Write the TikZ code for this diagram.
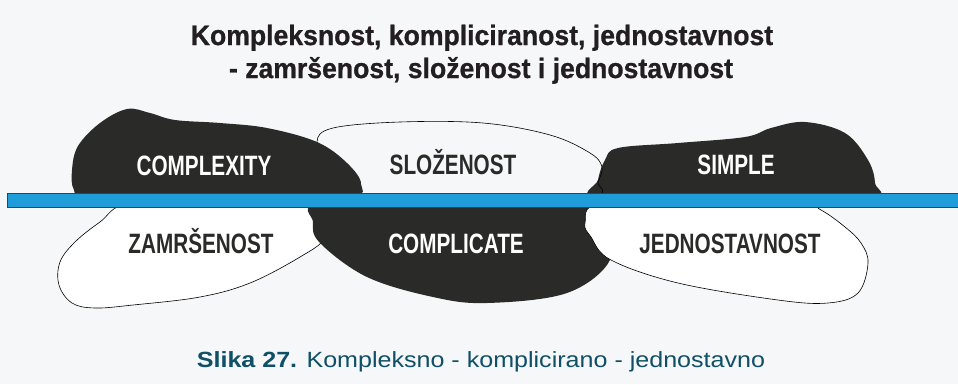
\documentclass[tikz,border=0pt]{standalone}
\usepackage{fontspec}
\usepackage{xcolor}
\usepackage{tikz}
\setmainfont{Liberation Sans}
\newfontfamily\blobfont[FakeStretch=0.74]{Liberation Sans}
\newfontfamily\headfont[FakeStretch=0.95, FakeBold=0.8]{Liberation Sans}
\newfontfamily\capfont[FakeStretch=1.14]{Liberation Sans}
\definecolor{pagebg}{HTML}{F5F7F9}
\definecolor{blobdark}{HTML}{2A2A29}
\definecolor{barblue}{HTML}{1E9DD8}
\definecolor{captionteal}{HTML}{0F5066}
\definecolor{headink}{HTML}{231F20}

\begin{document}
\begin{tikzpicture}[x=1pt, y=-1pt,
        darkblob/.style={fill=blobdark},
        lightblob/.style={fill=white, draw=black, line width=0.6pt},
        darklabel/.style={anchor=base, text=white, font=\blobfont\bfseries\fontsize{28}{30}\selectfont},
        lightlabel/.style={anchor=base, text=blobdark, font=\blobfont\bfseries\fontsize{28}{30}\selectfont},
        headline/.style={anchor=base, text=headink, font=\headfont\bfseries\fontsize{28}{32}\selectfont}
    ]
        \fill [pagebg] (0,0) rectangle (958,384);
        \useasboundingbox (0,0) rectangle (958,384);

        % upper row
        \fill [darkblob] plot [smooth cycle, tension=0.6] coordinates {(598,198) (598,180) (605,160) (618,148) (678,143) (745,137) (771,128) (805,122) (845,133) (868,160) (875,183) (870,198) (740,200)};
        \draw [black, line width=0.6pt] plot [smooth cycle, tension=0.6] coordinates {(330,165) (317,142) (333,128) (400,122) (483,123) (550,135) (590,153) (602,167) (598,182) (592,196) (470,199) (370,198)};
        \fill [darkblob] plot [smooth cycle, tension=0.6] coordinates {(90,200) (74,190) (72,170) (78,146) (100,123) (127,109) (150,113) (175,120) (220,123) (267,128) (317,142) (347,163) (361,184) (345,197) (200,200)};

        % lower row
        \filldraw [lightblob] plot [smooth cycle, tension=0.6] coordinates {(130,203) (100,222) (75,242) (60,262) (59,285) (72,303) (95,308) (133,305) (200,297) (250,283) (300,257) (325,238) (330,210) (220,203)};
        \fill [darkblob] plot [smooth cycle, tension=0.6] coordinates {(320,203) (313,222) (320,243) (367,277) (433,297) (487,303) (567,293) (610,260) (600,225) (590,204) (450,202)};
        \filldraw [lightblob] plot [smooth cycle, tension=0.6] coordinates {(600,203) (585,223) (591,237) (611,260) (678,283) (778,300) (828,303) (858,293) (868,263) (861,243) (845,227) (821,210) (800,203) (700,202)};

        % dividing bar
        \filldraw [fill=barblue, draw=black!75, line width=0.6pt] (7,193) rectangle (960,207);

        \node [darklabel] (complexity) at (204,175) {COMPLEXITY};
        \node [lightlabel] (slozenost) at (453,174) {SLOŽENOST};
        \node [darklabel] (simple) at (736,174) {SIMPLE};
        \node [lightlabel] (zamrsenost) at (201,253) {ZAMRŠENOST};
        \node [darklabel] (complicate) at (456,253) {COMPLICATE};
        \node [lightlabel] (jednostavnost) at (730,253) {JEDNOSTAVNOST};

        \node [headline] (title1) at (482,45) {Kompleksnost, kompliciranost, jednostavnost};
        \node [headline] (title2) at (481,78) {- zamršenost, složenost i jednostavnost};
        \node [anchor=base, text=captionteal, font=\capfont\fontsize{22}{26}\selectfont] (caption) at (481,367) {\textbf{Slika 27.} Kompleksno - komplicirano - jednostavno};
    \end{tikzpicture}
\end{document}
